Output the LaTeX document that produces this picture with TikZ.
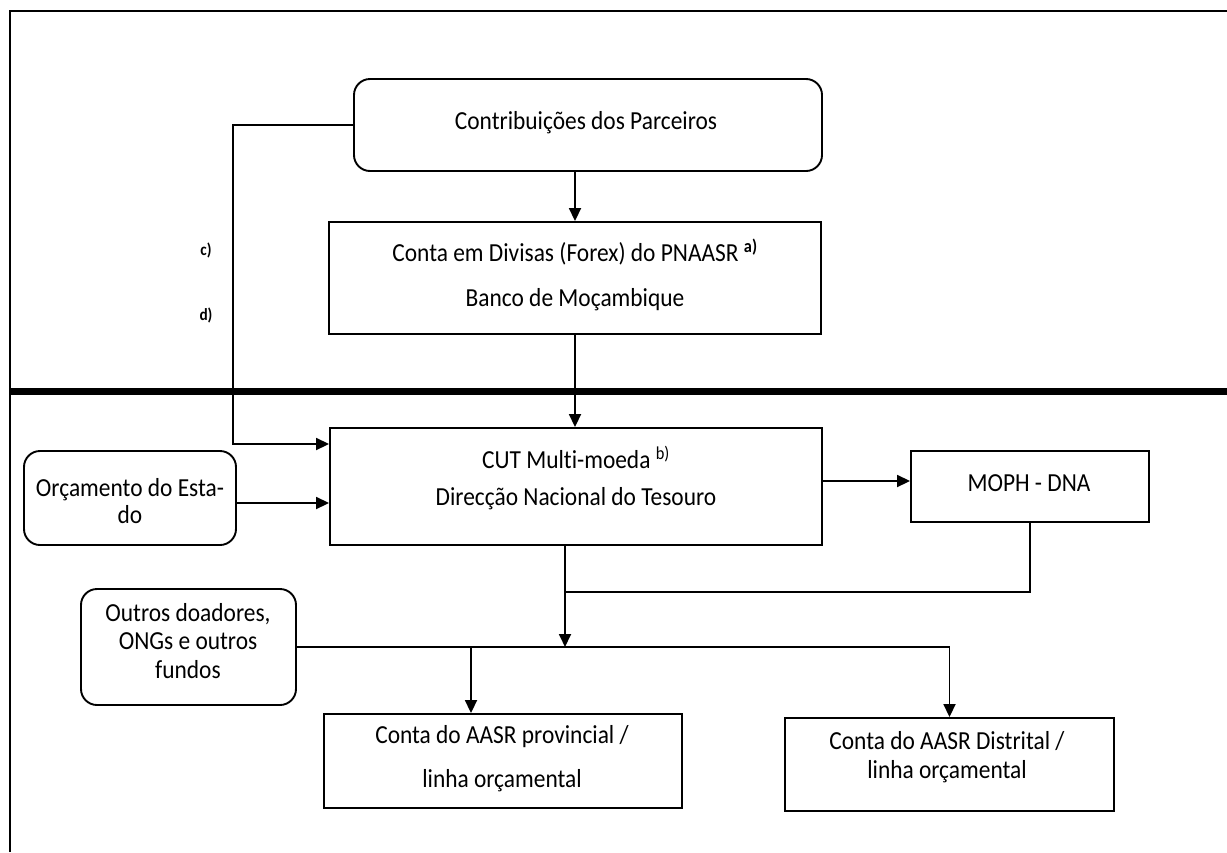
\documentclass[tikz,border=0pt]{standalone}
\usepackage{fontspec}
\setmainfont{Carlito}[Ligatures=NoCommon, FakeStretch=0.9]
\usetikzlibrary{arrows.meta}
\tikzset{
  box/.style={draw, line width=1.9pt, inner sep=0pt},
  rbox/.style={box, rounded corners=16pt},
  txt/.style={align=center, inner sep=0pt, font=\fontsize{26}{29}\selectfont},
  conn/.style={line width=1.8pt},
  arr/.style={conn, -{Triangle[length=13pt,width=12pt]}},
  lab/.style={font=\fontsize{17}{18}\selectfont\bfseries, inner sep=0pt}
}
\begin{document}
\begin{tikzpicture}[x=1pt,y=-1pt]
\useasboundingbox (0,0) rectangle (1227,852);
% frame
\draw[line width=2.4pt] (10,852) -- (10,11) -- (1227,11);
\draw[line width=7pt] (10,391) -- (1227,391);

% boxes
\node[rbox, minimum width=468pt, minimum height=92pt] (contrib) at (588,125) {};
\node[box, minimum width=492pt, minimum height=112pt] (forex) at (575,278) {};
\node[box, minimum width=492pt, minimum height=117pt] (cut) at (576,486.5) {};
\node[box, minimum width=238pt, minimum height=71pt] (moph) at (1030,486.5) {};
\node[rbox, minimum width=212pt, minimum height=94pt] (orc) at (130,498) {};
\node[rbox, minimum width=215pt, minimum height=116pt] (outros) at (188.5,647) {};
\node[box, minimum width=358pt, minimum height=94pt] (prov) at (503,761) {};
\node[box, minimum width=329pt, minimum height=93pt] (dist) at (949.5,764.5) {};

% texts
\node[txt] (contribt) at (586,123) {Contribuições dos Parceiros};
\node[txt, font=\fontsize{26}{45}\selectfont] (forext) at (575,275)
  {Conta em Divisas (Forex) do PNAASR \textsuperscript{\bfseries a)}\\Banco de Moçambique};
\node[txt, font=\fontsize{26}{37}\selectfont] (cutt) at (576,478)
  {CUT Multi-moeda \textsuperscript{b)}\\Direcção Nacional do Tesouro};
\node[txt] (mopht) at (1029,483) {MOPH - DNA};
\node[txt, font=\fontsize{26}{27}\selectfont] (orct) at (130,501) {Orçamento do Esta-\\do};
\node[txt, font=\fontsize{26}{28.5}\selectfont] (outrost) at (188,641) {Outros doadores,\\ONGs e outros\\fundos};
\node[txt, font=\fontsize{26}{44}\selectfont] (provt) at (502,759) {Conta do AASR provincial /\\linha orçamental};
\node[txt] (distt) at (947,757) {Conta do AASR Distrital /\\linha orçamental};

% labels
\node[lab] (lc) at (206,250) {c)};
\node[lab] (ld) at (206,315) {d)};

% connectors
\coordinate (cd) at (233,444);
\draw[arr] (contrib.west) -| (cd) -- (cd -| cut.west);
\draw[arr] (contrib.south -| forex.north) -- (forex.north);
\draw[arr] (forex.south) -- (cut.north -| forex.south);
\draw[arr] (orc.east |- 0,503) -- (cut.west |- 0,503);
\draw[arr] (cut.east |- 0,481) -- (moph.west |- 0,481);
\coordinate (j1) at (565,592);
\draw[conn] (moph.south) |- (j1);
\coordinate (busL) at (outros.east);
\draw[arr] (cut.south -| j1) -- (j1 |- busL);
\coordinate (busR) at (dist.north |- busL);
\draw[arr] (busL) -- (busR) -- (dist.north);
\coordinate (pv) at (471,647);
\draw[arr] (pv) -- (pv |- prov.north);
\end{tikzpicture}
\end{document}
